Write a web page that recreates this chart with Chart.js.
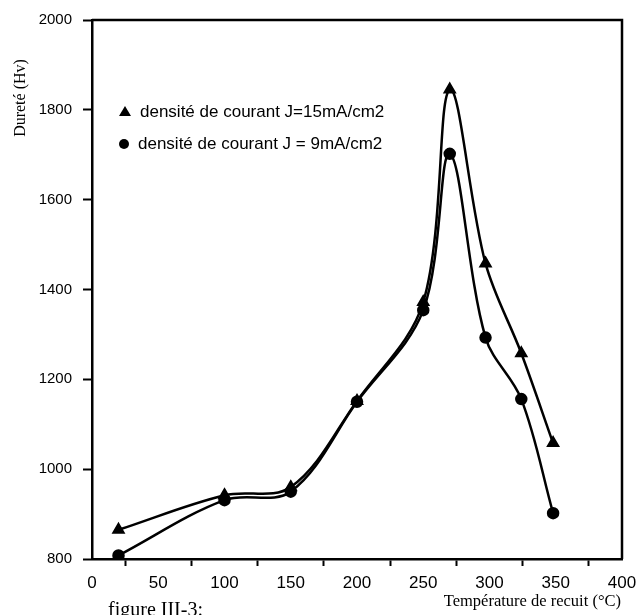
<!DOCTYPE html>
<html lang="fr">
<head>
    <meta charset="UTF-8">
    <title>Dureté en fonction de la température de recuit</title>
    <script src="https://cdn.jsdelivr.net/npm/chart.js"></script>
    <style>
        html, body {
            margin: 0;
            padding: 0;
            background: #fff;
        }
        #wrap {
            width: 644px;
            height: 615px;
        }
    </style>
</head>
<body>
    <div id="wrap"><canvas id="chart"></canvas></div>

    <script>
        // values
        const temp15 = [20, 100, 150, 200, 250, 270, 297, 324, 348];
        const hard15 = [865, 942, 960, 1152, 1372, 1845, 1458, 1258, 1058];
        const temp9 = [20, 100, 150, 200, 250, 270, 297, 324, 348];
        const hard9 = [808, 931, 950, 1150, 1354, 1702, 1293, 1156, 902];

        const label15 = 'densité de courant J=15mA/cm2';
        const label9 = 'densité de courant J = 9mA/cm2';

        const xTitle = 'Température de recuit (°C)';
        const yTitle = 'Dureté (Hv)';
        const caption = 'figure III-3:';

        const sans = "'Liberation Sans', Arial, sans-serif";
        const serif = "'Liberation Serif', 'Times New Roman', serif";

        function toPoints(xs, ys) {
            return xs.map((x, i) => ({ x: x, y: ys[i] }));
        }

        // frame, inside legend and the serif captions
        const extras = {
            id: 'extras',
            afterDraw(chart) {
                const ctx = chart.ctx;
                const a = chart.chartArea;
                ctx.save();
                ctx.strokeStyle = '#000';
                ctx.lineWidth = 2.5;
                ctx.beginPath();
                ctx.moveTo(a.left, a.top);
                ctx.lineTo(a.right, a.top);
                ctx.lineTo(a.right, a.bottom);
                ctx.stroke();

                // legend
                ctx.fillStyle = '#000';
                ctx.font = '17px ' + sans;
                ctx.textBaseline = 'middle';
                ctx.textAlign = 'left';
                ctx.beginPath();
                ctx.moveTo(125, 106);
                ctx.lineTo(131, 116);
                ctx.lineTo(119, 116);
                ctx.closePath();
                ctx.fill();
                ctx.fillText(label15, 140, 112);
                ctx.beginPath();
                ctx.arc(124, 144, 5, 0, Math.PI * 2);
                ctx.fill();
                ctx.fillText(label9, 138, 144);

                // y title
                ctx.font = '16px ' + serif;
                ctx.save();
                ctx.translate(21, 98);
                ctx.rotate(-Math.PI / 2);
                ctx.textAlign = 'center';
                ctx.fillText(yTitle, 0, 0);
                ctx.restore();

                // x title and caption
                ctx.font = '16.5px ' + serif;
                ctx.textAlign = 'right';
                ctx.fillText(xTitle, 621, 602);
                ctx.font = '20px ' + serif;
                ctx.textAlign = 'left';
                ctx.textBaseline = 'top';
                ctx.fillText(caption, 108, 601);
                ctx.restore();
            }
        };

        const ctx = document.getElementById('chart').getContext('2d');
        new Chart(ctx, {
            type: 'scatter',
            data: {
                datasets: [
                    {
                        label: label15,
                        data: toPoints(temp15, hard15),
                        showLine: true,
                        borderColor: '#000',
                        backgroundColor: '#000',
                        borderWidth: 2.5,
                        pointStyle: 'triangle',
                        pointRadius: 5.5,
                        tension: 0.35
                    },
                    {
                        label: label9,
                        data: toPoints(temp9, hard9),
                        showLine: true,
                        borderColor: '#000',
                        backgroundColor: '#000',
                        borderWidth: 2.5,
                        pointStyle: 'circle',
                        pointRadius: 5,
                        tension: 0.35
                    }
                ]
            },
            options: {
                responsive: true,
                maintainAspectRatio: false,
                animation: false,
                layout: {
                    padding: { left: 0, right: 22, top: 18, bottom: 0 }
                },
                plugins: {
                    legend: { display: false },
                    tooltip: { enabled: false }
                },
                scales: {
                    x: {
                        type: 'linear',
                        min: 0,
                        max: 400,
                        afterFit(scale) { scale.height = 56; },
                        border: { color: '#000', width: 2.5 },
                        grid: {
                            drawOnChartArea: false,
                            tickLength: 7,
                            tickWidth: 2,
                            tickColor: c => (c.tick && c.tick.value % 50 !== 0) ? '#000' : 'rgba(0,0,0,0)'
                        },
                        ticks: {
                            stepSize: 25,
                            autoSkip: false,
                            maxRotation: 0,
                            padding: 7,
                            color: '#000',
                            font: { family: sans, size: 17 },
                            callback: v => v % 50 === 0 ? v : ''
                        }
                    },
                    y: {
                        min: 800,
                        max: 2000,
                        afterFit(scale) { scale.width = 92; },
                        border: { color: '#000', width: 2.5 },
                        grid: {
                            drawOnChartArea: false,
                            tickLength: 9,
                            tickWidth: 2,
                            tickColor: c => (c.tick && c.tick.value % 200 === 0) ? '#000' : 'rgba(0,0,0,0)'
                        },
                        ticks: {
                            stepSize: 100,
                            autoSkip: false,
                            padding: 11,
                            color: '#000',
                            font: { family: sans, size: 15 },
                            callback: v => v % 200 === 0 ? v : ''
                        }
                    }
                }
            },
            plugins: [extras]
        });
    </script>
</body>
</html>
